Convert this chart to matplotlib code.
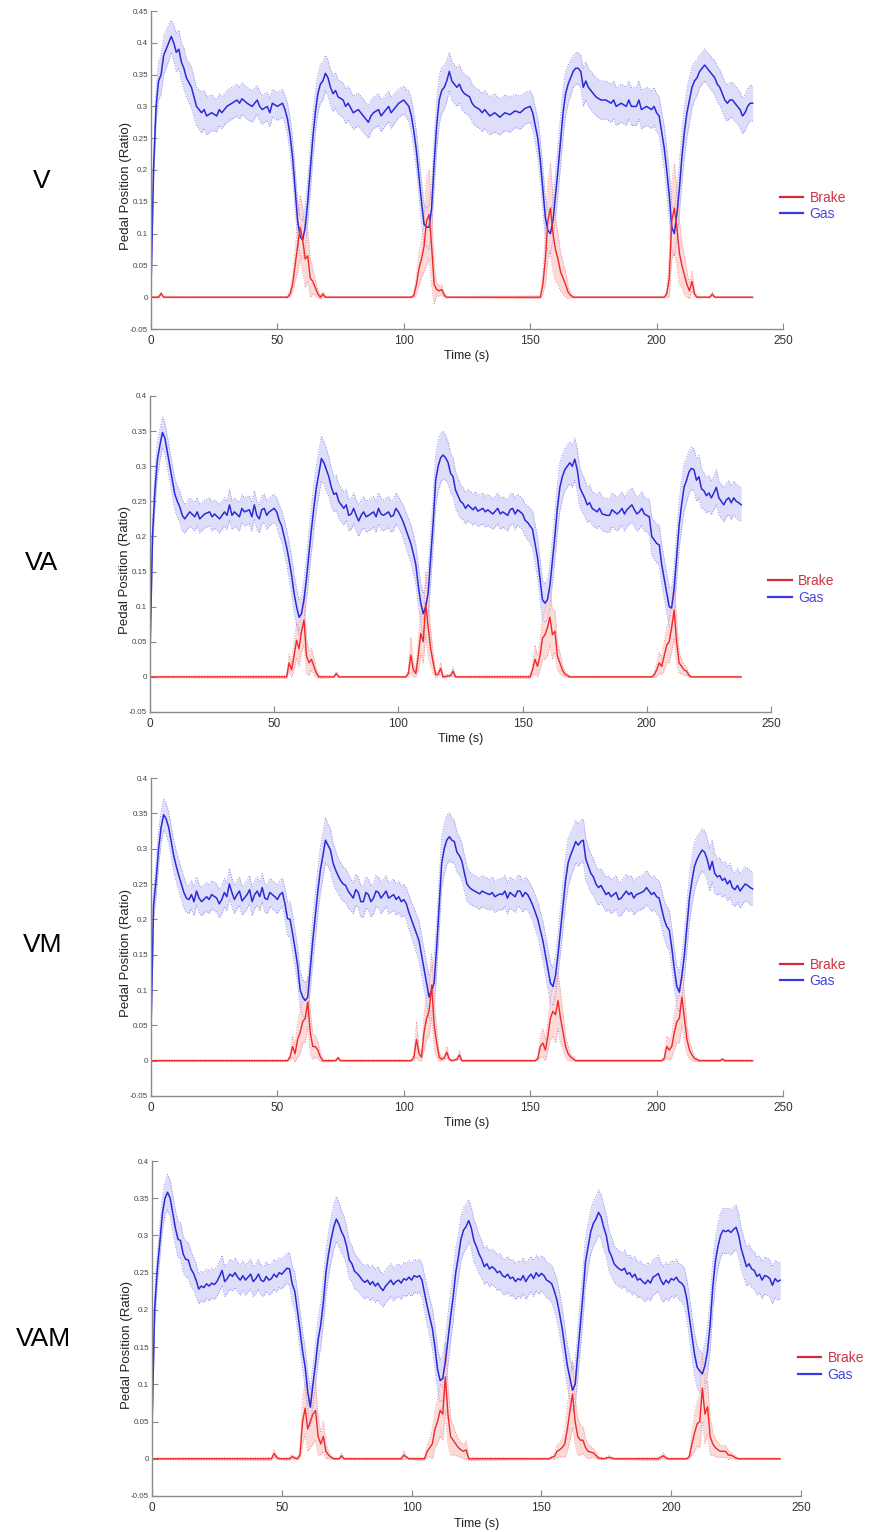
import numpy as np
import matplotlib.pyplot as plt
from matplotlib.lines import Line2D

plt.rcParams['font.family'] = ['Liberation Sans', 'DejaVu Sans']

# Values: (time s, mean ratio, spread)
V_GAS = [(0,0.010,0.005),(1,0.200,0.02),(2,0.300,0.025),(3,0.340,0.03),(4,0.350,0.03),(5,0.380,0.03),(6,0.390,0.03),(7,0.400,0.028),(8,0.410,0.025),(9,0.400,0.028),(10,0.385,0.03),(11,0.390,0.03),(12,0.370,0.03),(13,0.360,0.032),(14,0.345,0.03),(16,0.330,0.032),(18,0.300,0.03),(20,0.290,0.032),(21,0.295,0.03),(22,0.285,0.03),(24,0.290,0.028),(26,0.285,0.025),(27,0.295,0.025),(28,0.290,0.025),(30,0.300,0.025),(32,0.305,0.025),(34,0.310,0.025),(35,0.305,0.025),(36,0.312,0.025),(38,0.305,0.025),(40,0.300,0.025),(42,0.310,0.023),(43,0.300,0.023),(44,0.295,0.023),(46,0.300,0.022),(47,0.290,0.022),(48,0.305,0.022),(50,0.300,0.022),(52,0.305,0.022),(53,0.295,0.022),(54,0.280,0.025),(55,0.255,0.028),(56,0.220,0.03),(57,0.170,0.032),(58,0.120,0.032),(59,0.095,0.03),(60,0.090,0.03),(61,0.110,0.032),(62,0.150,0.035),(63,0.200,0.035),(64,0.250,0.035),(65,0.290,0.032),(66,0.320,0.03),(67,0.335,0.03),(68,0.340,0.03),(69,0.352,0.028),(70,0.345,0.028),(71,0.330,0.028),(72,0.320,0.028),(73,0.325,0.028),(74,0.315,0.027),(76,0.310,0.027),(77,0.300,0.027),(78,0.305,0.027),(80,0.290,0.026),(82,0.295,0.026),(84,0.285,0.026),(86,0.275,0.025),(87,0.285,0.025),(88,0.290,0.025),(90,0.295,0.025),(91,0.285,0.025),(92,0.290,0.024),(94,0.300,0.024),(95,0.290,0.024),(96,0.295,0.024),(98,0.305,0.022),(100,0.310,0.022),(101,0.305,0.022),(102,0.300,0.024),(103,0.285,0.026),(104,0.260,0.028),(105,0.230,0.03),(106,0.190,0.032),(107,0.150,0.034),(108,0.115,0.03),(109,0.110,0.03),(110,0.110,0.035),(111,0.140,0.038),(112,0.210,0.04),(113,0.270,0.04),(114,0.310,0.038),(115,0.325,0.036),(116,0.330,0.034),(117,0.340,0.032),(118,0.355,0.03),(119,0.340,0.03),(120,0.335,0.03),(121,0.330,0.03),(122,0.335,0.03),(123,0.325,0.03),(124,0.320,0.03),(126,0.315,0.03),(127,0.305,0.03),(128,0.300,0.03),(130,0.295,0.03),(131,0.290,0.03),(132,0.295,0.03),(134,0.285,0.03),(136,0.290,0.03),(138,0.283,0.028),(140,0.290,0.028),(142,0.287,0.028),(144,0.293,0.026),(146,0.290,0.026),(148,0.297,0.025),(150,0.300,0.025),(151,0.290,0.026),(152,0.270,0.028),(153,0.250,0.03),(154,0.215,0.032),(155,0.170,0.034),(156,0.125,0.034),(157,0.105,0.032),(158,0.100,0.03),(159,0.120,0.032),(160,0.160,0.035),(161,0.200,0.038),(162,0.245,0.04),(163,0.290,0.038),(164,0.320,0.035),(165,0.335,0.03),(166,0.345,0.028),(167,0.355,0.025),(168,0.360,0.025),(169,0.360,0.025),(170,0.355,0.025),(171,0.330,0.03),(172,0.340,0.03),(173,0.330,0.03),(174,0.325,0.03),(175,0.320,0.03),(176,0.315,0.03),(178,0.310,0.03),(180,0.310,0.03),(182,0.305,0.03),(183,0.310,0.03),(184,0.300,0.03),(186,0.305,0.03),(188,0.300,0.03),(189,0.310,0.03),(190,0.300,0.03),(192,0.300,0.03),(193,0.310,0.03),(194,0.295,0.03),(196,0.300,0.03),(198,0.295,0.03),(199,0.300,0.03),(200,0.290,0.03),(201,0.285,0.03),(202,0.260,0.032),(203,0.235,0.034),(204,0.200,0.036),(205,0.160,0.038),(206,0.110,0.035),(207,0.100,0.035),(208,0.130,0.038),(209,0.170,0.04),(210,0.220,0.04),(211,0.260,0.04),(212,0.290,0.038),(213,0.310,0.036),(214,0.330,0.032),(215,0.340,0.03),(216,0.345,0.028),(217,0.355,0.026),(218,0.360,0.025),(219,0.365,0.025),(220,0.360,0.025),(221,0.355,0.026),(222,0.350,0.026),(223,0.345,0.027),(224,0.335,0.028),(225,0.330,0.028),(226,0.320,0.028),(227,0.310,0.028),(228,0.305,0.028),(229,0.310,0.028),(230,0.310,0.028),(231,0.305,0.028),(232,0.300,0.028),(233,0.295,0.028),(234,0.285,0.028),(235,0.290,0.028),(236,0.300,0.028),(237,0.305,0.028),(238,0.305,0.028)]
V_BRAKE = [(0,0,0.001),(3,0,0.001),(4,0.006,0.002),(5,0,0.001),(54,0,0.001),(55,0.005,0.005),(56,0.02,0.012),(57,0.05,0.025),(58,0.08,0.04),(59,0.11,0.05),(60,0.09,0.05),(61,0.06,0.045),(62,0.065,0.04),(63,0.03,0.03),(64,0.025,0.02),(65,0.015,0.012),(66,0.005,0.006),(67,0,0.003),(68,0.005,0.004),(69,0,0.001),(103,0,0.001),(104,0.003,0.003),(105,0.02,0.015),(106,0.045,0.025),(107,0.06,0.03),(108,0.08,0.04),(109,0.12,0.07),(110,0.13,0.07),(111,0.08,0.06),(112,0.02,0.03),(113,0.012,0.01),(114,0.01,0.008),(115,0.012,0.008),(116,0.003,0.004),(117,0,0.001),(154,0,0.002),(155,0.02,0.015),(156,0.06,0.04),(157,0.12,0.06),(158,0.14,0.07),(159,0.10,0.06),(160,0.075,0.05),(161,0.06,0.04),(162,0.04,0.03),(163,0.03,0.025),(164,0.02,0.02),(165,0.008,0.01),(166,0.003,0.004),(167,0,0.001),(203,0,0.001),(204,0.005,0.005),(205,0.03,0.03),(206,0.12,0.06),(207,0.14,0.07),(208,0.11,0.06),(209,0.07,0.05),(210,0.05,0.035),(211,0.035,0.03),(212,0.02,0.02),(213,0.01,0.012),(214,0.025,0.015),(215,0.005,0.005),(216,0,0.001),(221,0,0.001),(222,0.005,0.003),(223,0,0.001),(238,0,0.001)]

VA_GAS = [(0,0.030,0.01),(1,0.200,0.02),(2,0.267,0.025),(3,0.310,0.025),(4,0.330,0.022),(5,0.348,0.022),(6,0.340,0.022),(7,0.320,0.022),(8,0.300,0.022),(9,0.280,0.022),(10,0.260,0.022),(11,0.250,0.022),(12,0.242,0.022),(13,0.230,0.022),(14,0.225,0.02),(15,0.230,0.02),(16,0.235,0.02),(18,0.228,0.02),(19,0.235,0.02),(20,0.225,0.02),(22,0.232,0.02),(24,0.235,0.02),(25,0.228,0.02),(26,0.232,0.02),(28,0.225,0.02),(30,0.235,0.02),(31,0.230,0.02),(32,0.245,0.022),(33,0.230,0.02),(34,0.235,0.02),(36,0.228,0.02),(37,0.240,0.02),(38,0.235,0.02),(40,0.238,0.02),(41,0.228,0.02),(42,0.245,0.02),(43,0.230,0.02),(44,0.225,0.02),(45,0.238,0.02),(46,0.240,0.02),(47,0.230,0.02),(48,0.235,0.02),(50,0.240,0.02),(51,0.235,0.02),(52,0.223,0.022),(53,0.215,0.022),(54,0.200,0.024),(55,0.185,0.025),(56,0.166,0.026),(57,0.145,0.026),(58,0.119,0.026),(59,0.100,0.026),(60,0.085,0.025),(61,0.090,0.025),(62,0.110,0.028),(63,0.140,0.03),(64,0.176,0.032),(65,0.210,0.032),(66,0.242,0.032),(67,0.270,0.032),(68,0.290,0.032),(69,0.311,0.032),(70,0.305,0.03),(71,0.295,0.03),(72,0.285,0.028),(73,0.270,0.027),(74,0.260,0.025),(75,0.262,0.025),(76,0.250,0.024),(77,0.245,0.024),(78,0.240,0.024),(79,0.245,0.022),(80,0.230,0.022),(81,0.232,0.022),(82,0.240,0.022),(83,0.230,0.022),(84,0.222,0.022),(85,0.230,0.022),(86,0.235,0.022),(87,0.228,0.022),(88,0.230,0.022),(90,0.235,0.022),(91,0.228,0.022),(92,0.240,0.022),(93,0.232,0.022),(94,0.230,0.022),(96,0.235,0.022),(97,0.228,0.022),(98,0.230,0.022),(99,0.240,0.022),(100,0.235,0.022),(101,0.228,0.022),(102,0.220,0.024),(103,0.210,0.025),(104,0.200,0.026),(105,0.190,0.027),(106,0.176,0.028),(107,0.160,0.028),(108,0.130,0.028),(109,0.105,0.028),(110,0.090,0.03),(111,0.100,0.03),(112,0.120,0.035),(113,0.170,0.036),(114,0.220,0.036),(115,0.280,0.036),(116,0.300,0.036),(117,0.312,0.035),(118,0.316,0.034),(119,0.312,0.032),(120,0.305,0.03),(121,0.290,0.028),(122,0.285,0.027),(123,0.266,0.026),(124,0.258,0.025),(125,0.250,0.024),(126,0.247,0.023),(127,0.240,0.022),(128,0.245,0.022),(130,0.238,0.022),(131,0.242,0.022),(132,0.236,0.022),(134,0.240,0.022),(135,0.235,0.022),(136,0.238,0.022),(138,0.232,0.022),(139,0.236,0.022),(140,0.240,0.022),(141,0.232,0.022),(142,0.235,0.022),(144,0.230,0.022),(145,0.238,0.022),(146,0.240,0.022),(147,0.232,0.022),(148,0.238,0.022),(149,0.235,0.022),(150,0.232,0.022),(151,0.223,0.023),(152,0.220,0.024),(153,0.215,0.025),(154,0.210,0.026),(155,0.190,0.028),(156,0.170,0.028),(157,0.140,0.028),(158,0.110,0.028),(159,0.105,0.027),(160,0.110,0.028),(161,0.130,0.03),(162,0.165,0.032),(163,0.200,0.034),(164,0.240,0.034),(165,0.270,0.034),(166,0.285,0.032),(167,0.295,0.03),(168,0.300,0.03),(169,0.305,0.03),(170,0.300,0.03),(171,0.310,0.03),(172,0.295,0.03),(173,0.270,0.028),(174,0.262,0.027),(175,0.255,0.026),(176,0.245,0.025),(177,0.248,0.025),(178,0.240,0.024),(180,0.235,0.024),(181,0.240,0.024),(182,0.232,0.024),(184,0.230,0.024),(185,0.230,0.024),(186,0.238,0.024),(188,0.232,0.024),(189,0.235,0.024),(190,0.240,0.024),(191,0.232,0.024),(192,0.238,0.024),(194,0.245,0.024),(195,0.238,0.024),(196,0.232,0.024),(197,0.235,0.024),(198,0.240,0.024),(199,0.232,0.024),(200,0.230,0.024),(201,0.228,0.025),(202,0.200,0.026),(203,0.195,0.027),(204,0.190,0.028),(205,0.188,0.028),(206,0.160,0.028),(207,0.140,0.028),(208,0.120,0.028),(209,0.100,0.028),(210,0.098,0.03),(211,0.125,0.032),(212,0.170,0.034),(213,0.215,0.034),(214,0.245,0.034),(215,0.270,0.034),(216,0.280,0.032),(217,0.292,0.03),(218,0.297,0.03),(219,0.295,0.03),(220,0.280,0.03),(221,0.285,0.03),(222,0.268,0.028),(223,0.265,0.026),(224,0.258,0.025),(225,0.262,0.025),(226,0.255,0.024),(227,0.262,0.024),(228,0.270,0.025),(229,0.255,0.024),(230,0.250,0.024),(231,0.245,0.024),(232,0.252,0.024),(233,0.255,0.024),(234,0.248,0.024),(235,0.255,0.024),(236,0.250,0.024),(237,0.248,0.024),(238,0.245,0.024)]
VA_BRAKE = [(0,0,0.001),(55,0,0.002),(56,0.02,0.012),(57,0.01,0.01),(58,0.03,0.02),(59,0.052,0.025),(60,0.04,0.025),(61,0.065,0.03),(62,0.081,0.035),(63,0.03,0.025),(64,0.02,0.018),(65,0.025,0.015),(66,0.015,0.012),(67,0.005,0.006),(68,0,0.002),(74,0,0.001),(75,0.005,0.002),(76,0,0.001),(103,0,0.001),(104,0.005,0.004),(105,0.031,0.025),(106,0.01,0.01),(107,0.005,0.005),(108,0.03,0.02),(109,0.062,0.03),(110,0.05,0.03),(111,0.105,0.045),(112,0.07,0.04),(113,0.04,0.025),(114,0.02,0.015),(115,0.003,0.004),(116,0.004,0.003),(117,0.012,0.008),(118,0,0.002),(121,0.002,0.002),(122,0.008,0.006),(123,0,0.001),(153,0,0.002),(154,0.01,0.008),(155,0.025,0.02),(156,0.015,0.015),(157,0.03,0.02),(158,0.055,0.03),(159,0.06,0.035),(160,0.07,0.04),(161,0.085,0.04),(162,0.06,0.035),(163,0.065,0.03),(164,0.03,0.02),(165,0.02,0.015),(166,0.01,0.008),(167,0.004,0.004),(169,0,0.001),(202,0,0.001),(203,0.003,0.004),(204,0.01,0.01),(205,0.02,0.015),(206,0.015,0.012),(207,0.03,0.02),(208,0.045,0.025),(209,0.05,0.03),(210,0.07,0.035),(211,0.095,0.04),(212,0.05,0.03),(213,0.02,0.015),(214,0.015,0.01),(215,0.01,0.008),(216,0.008,0.006),(217,0.002,0.002),(218,0,0.001),(238,0,0.001)]

VM_GAS = [(0,0.040,0.01),(1,0.220,0.02),(2,0.255,0.025),(3,0.300,0.025),(4,0.330,0.022),(5,0.348,0.022),(6,0.342,0.022),(7,0.330,0.022),(8,0.310,0.022),(9,0.290,0.022),(10,0.275,0.022),(11,0.262,0.022),(12,0.250,0.022),(13,0.238,0.022),(14,0.230,0.02),(15,0.228,0.02),(16,0.235,0.02),(17,0.225,0.02),(18,0.240,0.02),(19,0.230,0.02),(20,0.225,0.02),(22,0.232,0.02),(23,0.228,0.02),(24,0.235,0.02),(26,0.230,0.02),(27,0.222,0.02),(28,0.228,0.02),(29,0.238,0.02),(30,0.232,0.02),(31,0.250,0.022),(32,0.238,0.02),(33,0.228,0.02),(34,0.235,0.02),(35,0.240,0.02),(36,0.226,0.02),(38,0.235,0.02),(39,0.242,0.02),(40,0.225,0.02),(41,0.235,0.02),(42,0.240,0.02),(43,0.232,0.02),(44,0.245,0.02),(45,0.230,0.02),(46,0.228,0.02),(47,0.238,0.02),(48,0.235,0.02),(49,0.232,0.02),(50,0.228,0.02),(51,0.235,0.02),(52,0.238,0.02),(53,0.222,0.022),(54,0.201,0.024),(55,0.200,0.025),(56,0.180,0.026),(57,0.158,0.026),(58,0.135,0.026),(59,0.100,0.026),(60,0.090,0.025),(61,0.085,0.025),(62,0.090,0.026),(63,0.130,0.03),(64,0.170,0.032),(65,0.205,0.032),(66,0.240,0.032),(67,0.270,0.032),(68,0.290,0.032),(69,0.312,0.032),(70,0.305,0.03),(71,0.298,0.03),(72,0.280,0.028),(73,0.270,0.027),(74,0.262,0.025),(75,0.255,0.025),(76,0.250,0.024),(77,0.248,0.024),(78,0.240,0.024),(79,0.235,0.022),(80,0.230,0.022),(81,0.242,0.022),(82,0.238,0.022),(83,0.225,0.022),(84,0.225,0.022),(85,0.238,0.022),(86,0.235,0.022),(87,0.225,0.022),(88,0.230,0.022),(89,0.240,0.022),(90,0.238,0.022),(91,0.230,0.022),(92,0.235,0.022),(93,0.240,0.022),(94,0.230,0.022),(96,0.235,0.022),(97,0.228,0.022),(98,0.232,0.022),(99,0.225,0.022),(100,0.228,0.022),(101,0.222,0.022),(102,0.210,0.024),(103,0.200,0.025),(104,0.190,0.026),(105,0.180,0.027),(106,0.170,0.028),(107,0.150,0.028),(108,0.130,0.028),(109,0.110,0.028),(110,0.090,0.03),(111,0.100,0.03),(112,0.110,0.035),(113,0.160,0.036),(114,0.220,0.036),(115,0.280,0.036),(116,0.300,0.036),(117,0.312,0.035),(118,0.317,0.034),(119,0.312,0.032),(120,0.310,0.03),(121,0.295,0.028),(122,0.290,0.027),(123,0.282,0.026),(124,0.265,0.025),(125,0.250,0.024),(126,0.245,0.023),(127,0.242,0.022),(128,0.240,0.022),(130,0.236,0.022),(131,0.240,0.022),(132,0.238,0.022),(134,0.235,0.022),(135,0.238,0.022),(136,0.232,0.022),(138,0.236,0.022),(139,0.235,0.022),(140,0.240,0.022),(141,0.230,0.022),(142,0.238,0.022),(144,0.232,0.022),(145,0.240,0.022),(146,0.240,0.022),(147,0.232,0.022),(148,0.238,0.022),(149,0.235,0.022),(150,0.228,0.022),(151,0.220,0.023),(152,0.210,0.024),(153,0.200,0.025),(154,0.185,0.026),(155,0.170,0.028),(156,0.150,0.028),(157,0.130,0.028),(158,0.110,0.028),(159,0.105,0.027),(160,0.120,0.028),(161,0.150,0.03),(162,0.185,0.032),(163,0.220,0.034),(164,0.255,0.034),(165,0.280,0.034),(166,0.291,0.032),(167,0.300,0.03),(168,0.310,0.03),(169,0.305,0.03),(170,0.310,0.03),(171,0.312,0.03),(172,0.285,0.03),(173,0.275,0.028),(174,0.265,0.027),(175,0.260,0.026),(176,0.250,0.025),(177,0.245,0.025),(178,0.248,0.024),(180,0.235,0.024),(181,0.238,0.024),(182,0.232,0.024),(184,0.238,0.024),(185,0.228,0.024),(186,0.230,0.024),(188,0.240,0.024),(189,0.235,0.024),(190,0.238,0.024),(191,0.230,0.024),(192,0.235,0.024),(194,0.238,0.024),(195,0.240,0.024),(196,0.245,0.024),(197,0.240,0.024),(198,0.235,0.024),(199,0.238,0.024),(200,0.232,0.024),(201,0.230,0.025),(202,0.215,0.026),(203,0.200,0.027),(204,0.190,0.028),(205,0.185,0.028),(206,0.160,0.028),(207,0.130,0.028),(208,0.105,0.028),(209,0.097,0.028),(210,0.120,0.03),(211,0.150,0.032),(212,0.190,0.034),(213,0.230,0.034),(214,0.255,0.034),(215,0.275,0.034),(216,0.285,0.032),(217,0.292,0.03),(218,0.298,0.03),(219,0.295,0.03),(220,0.285,0.03),(221,0.270,0.03),(222,0.282,0.03),(223,0.265,0.028),(224,0.260,0.026),(225,0.262,0.025),(226,0.255,0.024),(227,0.258,0.024),(228,0.250,0.024),(229,0.255,0.024),(230,0.245,0.024),(231,0.242,0.024),(232,0.248,0.024),(233,0.240,0.024),(234,0.245,0.024),(235,0.250,0.024),(236,0.248,0.024),(237,0.245,0.024),(238,0.243,0.024)]
VM_BRAKE = [(0,0,0.001),(54,0,0.001),(55,0.005,0.004),(56,0.02,0.015),(57,0.01,0.012),(58,0.03,0.025),(59,0.04,0.03),(60,0.055,0.03),(61,0.06,0.035),(62,0.083,0.035),(63,0.04,0.03),(64,0.02,0.018),(65,0.02,0.015),(66,0.015,0.012),(67,0.005,0.006),(68,0,0.002),(73,0,0.001),(74,0.004,0.002),(75,0,0.001),(103,0,0.001),(104,0.005,0.004),(105,0.03,0.025),(106,0.01,0.01),(107,0.005,0.005),(108,0.04,0.025),(109,0.06,0.03),(110,0.07,0.035),(111,0.107,0.045),(112,0.05,0.035),(113,0.025,0.02),(114,0.005,0.006),(115,0.002,0.002),(116,0.004,0.003),(117,0.012,0.008),(118,0.002,0.002),(119,0,0.001),(121,0.002,0.002),(122,0.008,0.006),(123,0,0.001),(152,0,0.001),(153,0.003,0.003),(154,0.02,0.015),(155,0.025,0.02),(156,0.015,0.015),(157,0.035,0.02),(158,0.06,0.03),(159,0.07,0.035),(160,0.065,0.04),(161,0.085,0.04),(162,0.06,0.035),(163,0.04,0.025),(164,0.02,0.015),(165,0.01,0.01),(166,0.005,0.005),(168,0,0.001),(202,0,0.001),(203,0.003,0.003),(204,0.02,0.015),(205,0.015,0.015),(206,0.02,0.015),(207,0.04,0.025),(208,0.055,0.03),(209,0.06,0.035),(210,0.09,0.04),(211,0.06,0.035),(212,0.03,0.02),(213,0.015,0.012),(214,0.008,0.008),(215,0.003,0.004),(217,0,0.001),(225,0,0.001),(226,0.002,0.002),(227,0,0.001),(238,0,0.001)]

VAM_GAS = [(0,0.040,0.01),(1,0.200,0.02),(2,0.253,0.022),(3,0.290,0.022),(4,0.329,0.022),(5,0.350,0.022),(6,0.358,0.024),(7,0.350,0.024),(8,0.330,0.024),(9,0.310,0.024),(10,0.295,0.024),(11,0.293,0.024),(12,0.275,0.024),(13,0.268,0.024),(14,0.267,0.024),(15,0.255,0.024),(16,0.249,0.022),(17,0.240,0.022),(18,0.228,0.02),(19,0.232,0.02),(20,0.230,0.02),(21,0.235,0.02),(22,0.232,0.02),(23,0.236,0.02),(24,0.234,0.02),(25,0.238,0.02),(26,0.245,0.02),(27,0.253,0.02),(28,0.238,0.02),(29,0.242,0.02),(30,0.248,0.02),(31,0.245,0.02),(32,0.250,0.02),(33,0.244,0.02),(34,0.240,0.02),(35,0.246,0.02),(36,0.240,0.02),(37,0.244,0.02),(38,0.248,0.02),(39,0.238,0.02),(40,0.242,0.02),(41,0.248,0.02),(42,0.240,0.02),(43,0.238,0.02),(44,0.245,0.02),(45,0.240,0.02),(46,0.242,0.02),(47,0.248,0.02),(48,0.244,0.02),(49,0.250,0.02),(50,0.248,0.02),(51,0.252,0.02),(52,0.256,0.02),(53,0.255,0.022),(54,0.235,0.024),(55,0.225,0.025),(56,0.200,0.026),(57,0.172,0.026),(58,0.145,0.026),(59,0.123,0.026),(60,0.090,0.025),(61,0.069,0.025),(62,0.100,0.026),(63,0.128,0.028),(64,0.160,0.03),(65,0.180,0.03),(66,0.210,0.03),(67,0.250,0.03),(68,0.275,0.03),(69,0.295,0.03),(70,0.311,0.03),(71,0.322,0.03),(72,0.315,0.03),(73,0.305,0.028),(74,0.298,0.027),(75,0.285,0.026),(76,0.267,0.025),(77,0.262,0.024),(78,0.252,0.024),(79,0.249,0.022),(80,0.245,0.022),(81,0.240,0.022),(82,0.237,0.022),(83,0.240,0.022),(84,0.234,0.022),(85,0.238,0.022),(86,0.232,0.022),(87,0.236,0.022),(88,0.230,0.022),(89,0.226,0.022),(90,0.232,0.022),(91,0.236,0.022),(92,0.240,0.022),(93,0.234,0.022),(94,0.238,0.022),(95,0.240,0.022),(96,0.236,0.022),(97,0.242,0.022),(98,0.240,0.022),(99,0.244,0.022),(100,0.240,0.022),(101,0.246,0.022),(102,0.244,0.022),(103,0.246,0.022),(104,0.240,0.023),(105,0.222,0.024),(106,0.205,0.025),(107,0.190,0.026),(108,0.175,0.027),(109,0.150,0.028),(110,0.120,0.028),(111,0.105,0.028),(112,0.108,0.03),(113,0.130,0.032),(114,0.160,0.034),(115,0.190,0.034),(116,0.217,0.034),(117,0.250,0.032),(118,0.271,0.03),(119,0.295,0.03),(120,0.307,0.03),(121,0.312,0.03),(122,0.320,0.028),(123,0.310,0.028),(124,0.293,0.028),(125,0.285,0.027),(126,0.275,0.026),(127,0.268,0.025),(128,0.258,0.024),(129,0.262,0.024),(130,0.255,0.024),(131,0.258,0.024),(132,0.255,0.024),(133,0.250,0.024),(134,0.252,0.024),(135,0.246,0.024),(136,0.244,0.024),(137,0.248,0.024),(138,0.242,0.024),(139,0.244,0.024),(140,0.238,0.024),(141,0.242,0.024),(142,0.240,0.024),(143,0.246,0.024),(144,0.238,0.024),(145,0.244,0.024),(146,0.248,0.024),(147,0.242,0.024),(148,0.250,0.024),(149,0.245,0.024),(150,0.249,0.024),(151,0.246,0.024),(152,0.240,0.024),(153,0.238,0.024),(154,0.235,0.025),(155,0.225,0.026),(156,0.213,0.027),(157,0.195,0.028),(158,0.175,0.028),(159,0.150,0.028),(160,0.125,0.028),(161,0.108,0.028),(162,0.092,0.028),(163,0.100,0.03),(164,0.140,0.032),(165,0.180,0.034),(166,0.220,0.034),(167,0.265,0.032),(168,0.285,0.03),(169,0.305,0.03),(170,0.316,0.03),(171,0.322,0.03),(172,0.331,0.03),(173,0.325,0.03),(174,0.311,0.03),(175,0.300,0.028),(176,0.280,0.027),(177,0.272,0.026),(178,0.262,0.025),(179,0.258,0.024),(180,0.255,0.024),(181,0.253,0.024),(182,0.256,0.024),(183,0.248,0.024),(184,0.250,0.024),(185,0.244,0.024),(186,0.248,0.024),(187,0.240,0.024),(188,0.242,0.024),(189,0.238,0.024),(190,0.235,0.024),(191,0.240,0.024),(192,0.236,0.024),(193,0.244,0.024),(194,0.246,0.024),(195,0.249,0.024),(196,0.240,0.024),(197,0.234,0.024),(198,0.240,0.024),(199,0.236,0.024),(200,0.242,0.024),(201,0.240,0.024),(202,0.244,0.024),(203,0.238,0.024),(204,0.236,0.025),(205,0.231,0.026),(206,0.215,0.027),(207,0.190,0.028),(208,0.164,0.028),(209,0.140,0.028),(210,0.123,0.028),(211,0.118,0.028),(212,0.114,0.028),(213,0.125,0.03),(214,0.145,0.032),(215,0.180,0.034),(216,0.230,0.034),(217,0.265,0.032),(218,0.285,0.03),(219,0.300,0.03),(220,0.307,0.03),(221,0.305,0.03),(222,0.307,0.03),(223,0.304,0.03),(224,0.308,0.03),(225,0.311,0.03),(226,0.300,0.029),(227,0.282,0.028),(228,0.270,0.027),(229,0.258,0.026),(230,0.262,0.026),(231,0.255,0.025),(232,0.253,0.025),(233,0.245,0.025),(234,0.248,0.025),(235,0.240,0.025),(236,0.246,0.025),(237,0.245,0.025),(238,0.242,0.025),(239,0.233,0.025),(240,0.242,0.025),(241,0.238,0.025),(242,0.240,0.025)]
VAM_BRAKE = [(0,0,0.001),(46,0,0.002),(47,0.007,0.005),(48,0.002,0.003),(49,0,0.001),(53,0,0.002),(54,0.003,0.003),(55,0.001,0.002),(56,0,0.001),(57,0.005,0.004),(58,0.05,0.03),(59,0.068,0.035),(60,0.04,0.03),(61,0.05,0.035),(62,0.06,0.04),(63,0.065,0.04),(64,0.03,0.025),(65,0.02,0.015),(66,0.03,0.02),(67,0.01,0.01),(68,0.005,0.005),(69,0.002,0.002),(70,0,0.001),(72,0,0.001),(73,0.004,0.003),(74,0,0.001),(96,0,0.001),(97,0.005,0.006),(98,0.002,0.002),(99,0,0.001),(105,0,0.002),(106,0.01,0.008),(107,0.015,0.012),(108,0.02,0.02),(109,0.04,0.025),(110,0.05,0.03),(111,0.065,0.035),(112,0.06,0.035),(113,0.11,0.045),(114,0.06,0.04),(115,0.03,0.025),(116,0.025,0.02),(117,0.02,0.015),(118,0.015,0.012),(119,0.012,0.01),(120,0.01,0.01),(121,0.012,0.012),(122,0,0.002),(153,0,0.001),(154,0.002,0.002),(155,0.003,0.004),(156,0.01,0.008),(157,0.012,0.01),(158,0.015,0.012),(159,0.02,0.018),(160,0.04,0.03),(161,0.065,0.04),(162,0.087,0.045),(163,0.05,0.03),(164,0.03,0.025),(165,0.025,0.02),(166,0.025,0.018),(167,0.015,0.012),(168,0.01,0.01),(170,0.008,0.006),(172,0.001,0.002),(174,0,0.001),(176,0.002,0.002),(178,0,0.001),(195,0,0.002),(197,0.004,0.004),(198,0.001,0.002),(199,0,0.001),(206,0,0.001),(207,0.003,0.003),(208,0.02,0.015),(209,0.035,0.025),(210,0.047,0.03),(211,0.05,0.035),(212,0.095,0.045),(213,0.06,0.04),(214,0.07,0.035),(215,0.03,0.025),(216,0.02,0.015),(217,0.015,0.012),(218,0.012,0.01),(219,0.01,0.008),(220,0.01,0.008),(221,0.01,0.008),(222,0.005,0.006),(223,0.005,0.004),(225,0.001,0.002),(226,0,0.001),(242,0,0.001)]

CONDITIONS = ['V', 'VA', 'VM', 'VAM']
Y_TOPS = [0.45, 0.4, 0.4, 0.4]
X_TICKS = [0, 50, 100, 150, 200, 250]

# axes boxes in pixels (left, top, right, bottom) and row label centres
W, H = 870, 1532
BOXES = [(151, 11, 783, 329), (150, 396, 771, 712), (151, 778, 783, 1096), (152, 1161, 801, 1496)]
ROW_LABEL_XY = [(42, 181), (42, 563), (43, 945), (43, 1339)]

GAS_C, GAS_FILL, GAS_EDGE = '#2a2ad8', '#dedefa', '#8a8aee'
BRK_C, BRK_FILL, BRK_EDGE = '#f02828', '#fbdada', '#f38a8a'

fig = plt.figure(figsize=(W / 100, H / 100), dpi=100)

series = [(V_GAS, V_BRAKE), (VA_GAS, VA_BRAKE), (VM_GAS, VM_BRAKE), (VAM_GAS, VAM_BRAKE)]

for (gas, brake), box, ytop, name, lxy in zip(series, BOXES, Y_TOPS, CONDITIONS, ROW_LABEL_XY):
    l, t, r, b = box
    ax = fig.add_axes([l / W, 1 - b / H, (r - l) / W, (b - t) / H])

    # shaded spread with dotted edges, then the mean lines
    for rows, fill_c, edge_c in ((gas, GAS_FILL, GAS_EDGE), (brake, BRK_FILL, BRK_EDGE)):
        tt, m, s = np.array(rows).T
        ax.fill_between(tt, m - s, m + s, color=fill_c, lw=0)
        ax.plot(tt, m - s, ls=':', color=edge_c, lw=0.7)
        ax.plot(tt, m + s, ls=':', color=edge_c, lw=0.7)
    tt, m, s = np.array(gas).T
    ax.plot(tt, m, color=GAS_C, lw=1.1)
    tt, m, s = np.array(brake).T
    ax.plot(tt, m, color=BRK_C, lw=1.0)

    ax.set_xlim(0, 250)
    ax.set_ylim(-0.05, ytop)
    yt = np.round(np.arange(-0.05, ytop + 0.001, 0.05), 2)
    ax.set_yticks(yt)
    ax.set_yticklabels(['%g' % v for v in yt])
    ax.set_xticks(X_TICKS)

    for side in ('top', 'right'):
        ax.spines[side].set_visible(False)
    for side in ('left', 'bottom'):
        ax.spines[side].set_color('#8a8a8a')
        ax.spines[side].set_linewidth(1.0)
    ax.tick_params(axis='both', direction='in', length=4, width=0.8, color='#8a8a8a')
    ax.tick_params(axis='y', labelsize=5.8, labelcolor='#444444', pad=2)
    ax.tick_params(axis='x', labelsize=8.5, labelcolor='#333333', pad=4)

    ax.set_ylabel('Pedal Position (Ratio)', fontsize=9.5, color='#222222')
    ax.yaxis.set_label_coords(-0.03, 0.45)
    ax.set_xlabel('Time (s)', fontsize=9, color='#222222')
    ax.xaxis.set_label_coords(0.5, -0.065)

    handles = [Line2D([], [], color='#d42a3a', lw=1.6), Line2D([], [], color='#3a3ae0', lw=1.6)]
    ax.legend(handles, ['Brake', 'Gas'], loc='center left', bbox_to_anchor=(0.995, 0.387),
              frameon=False, fontsize=10, handlelength=1.7, handletextpad=0.45,
              labelspacing=0.2, borderpad=0, borderaxespad=0,
              labelcolor=['#cc3344', '#4444e0'])

    fig.text(lxy[0] / W, 1 - lxy[1] / H, name, fontsize=19, ha='center', va='center')

plt.savefig('out.png', dpi=100)
